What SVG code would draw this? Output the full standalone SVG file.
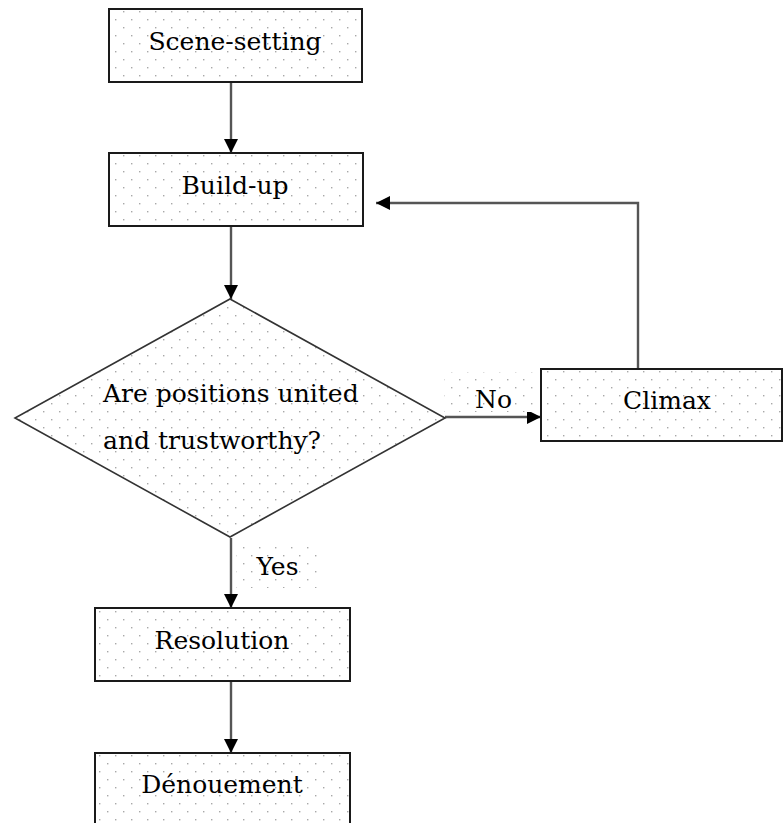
<svg xmlns="http://www.w3.org/2000/svg" width="783" height="823" viewBox="0 0 783 823">
  <style>
    .box { fill: url(#dots); stroke: #1a1a1a; stroke-width: 2; }
    .diamond { fill: url(#dots); stroke: #333; stroke-width: 1.6; }
    .lbl { font-family: "DejaVu Serif", "Liberation Serif", serif; font-size: 25px; fill: #000; }
    .mid { text-anchor: middle; }
    .edge { fill: none; stroke: #555; stroke-width: 2.4; }
    .lblbg { fill: url(#dots); stroke: none; }
  </style>
  <defs>
    <pattern id="dots" width="16" height="16" patternUnits="userSpaceOnUse">
      <rect x="0" y="0" width="16" height="16" fill="#ffffff"/>
      <rect x="3" y="3" width="1.4" height="1.4" fill="#a8a8a8"/>
      <rect x="11" y="11" width="1.4" height="1.4" fill="#a8a8a8"/>
    </pattern>
    <marker id="arrow" viewBox="0 0 14 14" refX="14" refY="7" markerWidth="14" markerHeight="14" markerUnits="userSpaceOnUse" orient="auto">
      <path d="M0,0 L14,7 L0,14 z" fill="#000"/>
    </marker>
  </defs>

  <g id="connectors">
    <path class="edge" d="M231,82 V153" marker-end="url(#arrow)"/>
    <path class="edge" d="M231,226 V299" marker-end="url(#arrow)"/>
    <path class="edge" d="M445,417 H541" marker-end="url(#arrow)"/>
    <path class="edge" d="M638,369 V203 H376" marker-end="url(#arrow)"/>
    <path class="edge" d="M231,538 V608" marker-end="url(#arrow)"/>
    <path class="edge" d="M231,681 V753" marker-end="url(#arrow)"/>
    <g id="label-no">
      <rect class="lblbg" x="444" y="372" width="95" height="40"/>
      <text class="lbl mid" x="493.5" y="408">No</text>
    </g>
    <g id="label-yes">
      <rect class="lblbg" x="236" y="542" width="87" height="46"/>
      <text class="lbl mid" x="277.5" y="575">Yes</text>
    </g>
  </g>

  <g id="scene-setting">
    <rect class="box" x="109" y="9" width="253" height="73"/>
    <text class="lbl mid" x="235" y="50">Scene-setting</text>
  </g>
  <g id="build-up">
    <rect class="box" x="109" y="153" width="254" height="73"/>
    <text class="lbl mid" x="235" y="194">Build-up</text>
  </g>
  <g id="decision">
    <polygon class="diamond" points="230,299 445,418 230,537 15,418"/>
    <text class="lbl" x="103" y="402">Are positions united</text>
    <text class="lbl" x="103" y="449">and trustworthy?</text>
  </g>
  <g id="climax">
    <rect class="box" x="541" y="369" width="241" height="72"/>
    <text class="lbl mid" x="667" y="409">Climax</text>
  </g>
  <g id="resolution">
    <rect class="box" x="95" y="608" width="255" height="73"/>
    <text class="lbl mid" x="222" y="649">Resolution</text>
  </g>
  <g id="denouement">
    <rect class="box" x="95" y="753" width="255" height="80"/>
    <text class="lbl mid" x="222" y="793">Dénouement</text>
  </g>
</svg>
